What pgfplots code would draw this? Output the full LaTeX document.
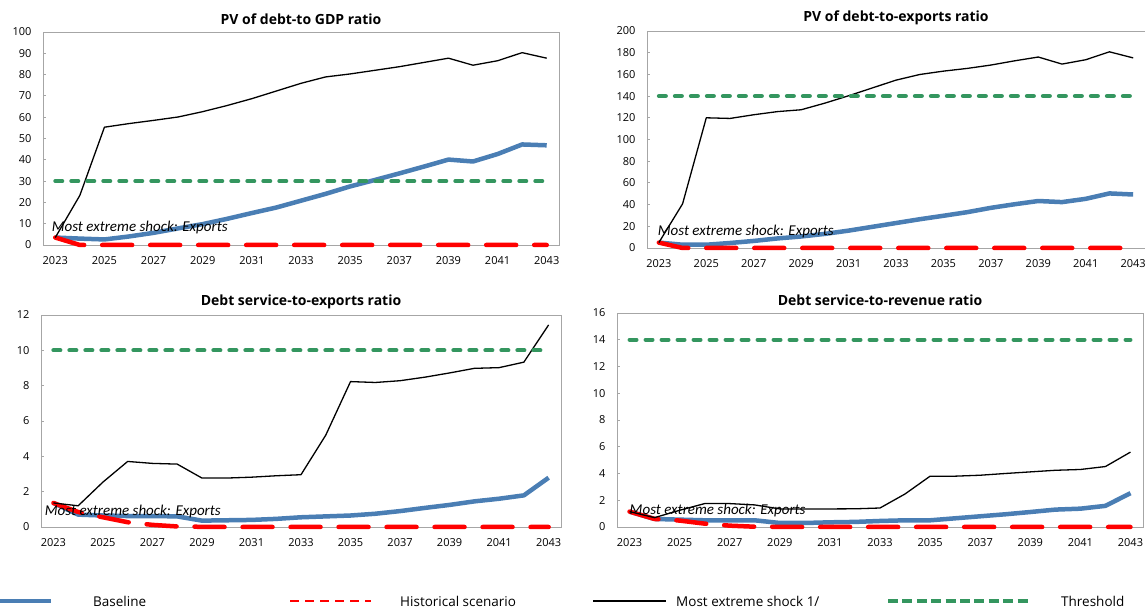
\documentclass[border=0pt]{standalone}
\usepackage{fontspec}
\setmainfont{Open Sans}
\newfontfamily\carlito{Carlito}
\usepackage{pgfplots}
\usepackage{pgfplotstable}
\pgfplotsset{compat=1.18}

\definecolor{baseblue}{RGB}{74,126,180}
\definecolor{thrgreen}{RGB}{52,150,95}
\definecolor{axisgray}{RGB}{166,166,166}

% year, baseline, historical scenario, most extreme shock, threshold
\pgfplotstableread{
year base hist shock thr
2023 3.5  3.5 3.5  30
2024 3.0  0   23.3 30
2025 2.6  0   55.3 30
2026 4.0  0   57.0 30
2027 5.7  0   58.5 30
2028 7.8  0   60.1 30
2029 9.8  0   62.6 30
2030 12.3 0   65.5 30
2031 15.0 0   68.7 30
2032 17.6 0   72.3 30
2033 20.8 0   75.9 30
2034 24.0 0   78.9 30
2035 27.5 0   80.3 30
2036 30.5 0   82.0 30
2037 33.6 0   83.7 30
2038 36.8 0   85.7 30
2039 40.1 0   87.7 30
2040 39.2 0   84.4 30
2041 42.7 0   86.5 30
2042 47.2 0   90.3 30
2043 46.8 0   87.7 30
}\pvgdp

\pgfplotstableread{
year base hist shock thr
2023 5.0  5.0 5.0   140
2024 3.0  0   40.7  140
2025 3.0  0   120.0 140
2026 4.6  0   119.4 140
2027 6.5  0   122.8 140
2028 8.8  0   125.7 140
2029 10.6 0   127.4 140
2030 13.0 0   133.5 140
2031 16.0 0   140.3 140
2032 19.5 0   147.5 140
2033 23.0 0   154.7 140
2034 26.5 0   159.9 140
2035 29.7 0   163.0 140
2036 33.0 0   165.5 140
2037 37.0 0   168.6 140
2038 40.3 0   172.5 140
2039 43.3 0   176.0 140
2040 42.3 0   169.5 140
2041 45.3 0   173.5 140
2042 50.3 0   180.8 140
2043 49.3 0   175.2 140
}\pvexp

\pgfplotstableread{
year base hist shock thr
2023 1.36 1.36 1.36  10
2024 0.70 0.85 1.20  10
2025 0.65 0.55 2.54  10
2026 0.62 0.27 3.71  10
2027 0.62 0.12 3.60  10
2028 0.60 0.03 3.56  10
2029 0.36 0.01 2.77  10
2030 0.38 0    2.77  10
2031 0.40 0    2.82  10
2032 0.46 0    2.90  10
2033 0.55 0    2.96  10
2034 0.60 0    5.20  10
2035 0.65 0    8.23  10
2036 0.75 0    8.18  10
2037 0.90 0    8.28  10
2038 1.08 0    8.48  10
2039 1.25 0    8.72  10
2040 1.45 0    8.98  10
2041 1.60 0    9.02  10
2042 1.79 0    9.33  10
2043 2.79 0    11.44 10
}\dsexp

\pgfplotstableread{
year base hist shock thr
2023 1.15 1.15 1.15 14
2024 0.60 0.60 0.70 14
2025 0.55 0.48 1.25 14
2026 0.50 0.25 1.75 14
2027 0.50 0.10 1.75 14
2028 0.50 0.02 1.65 14
2029 0.30 0.01 1.35 14
2030 0.30 0    1.35 14
2031 0.35 0    1.35 14
2032 0.38 0    1.36 14
2033 0.45 0    1.42 14
2034 0.50 0    2.47 14
2035 0.50 0    3.80 14
2036 0.65 0    3.80 14
2037 0.80 0    3.87 14
2038 0.95 0    4.00 14
2039 1.12 0    4.12 14
2040 1.30 0    4.24 14
2041 1.37 0    4.30 14
2042 1.58 0    4.52 14
2043 2.53 0    5.60 14
}\dsrev

\tikzset{
  shocknote/.style={anchor=west, inner sep=0pt,
                    font=\carlito\itshape\fontsize{15}{17}\selectfont},
}

\pgfplotsset{
  dsa/.style={
    scale only axis,
    clip=false,
    xmin=2022.5, xmax=2043.5,
    ymin=0,
    xtick={2023,2025,...,2043},
    minor xtick={2024.5,2026.5,...,2042.5},
    ytick pos=left, xtick pos=bottom,
    tick align=inside,
    major tick length=3pt,
    minor tick length=3pt,
    axis line style={axisgray, line width=0.8pt},
    tick style={axisgray, line width=0.8pt},
    x tick style={draw=none},
    minor x tick style={axisgray, line width=0.8pt},
    /pgf/number format/assume math mode=true,
    tick label style={font=\fontsize{11}{13}\selectfont, text=black},
    xticklabel style={/pgf/number format/1000 sep={}, yshift=-8pt},
    yticklabel style={xshift=-8pt},
    title style={font=\bfseries\fontsize{14}{16}\selectfont,
                 at={(0.5,1)}, anchor=center, yshift=7pt},
  },
  base/.style={color=baseblue, line width=4.5pt, line join=round, no markers},
  hist/.style={color=red, line width=4.5pt, line cap=round, line join=round,
               dash pattern=on 30pt off 18pt, no markers},
  shock/.style={color=black, line width=1.3pt, line join=round, no markers},
  thr/.style={color=thrgreen, line width=4pt, line cap=round,
              dash pattern=on 7pt off 9pt, no markers},
}

\newcommand{\dsaseries}[1]{%
  \addplot[base]  table[x=year, y=base]  {#1};
  \addplot[hist]  table[x=year, y=hist]  {#1};
  \addplot[shock] table[x=year, y=shock] {#1};
  \addplot[thr]   table[x=year, y=thr]   {#1};
}

\begin{document}
\begin{tikzpicture}
\useasboundingbox (0,0) rectangle (1145pt,609pt);

% PV of debt-to-GDP
\begin{axis}[dsa, at={(43pt,364pt)}, anchor=south west,
  width=516pt, height=213pt, ymax=100, ytick={0,10,...,100},
  title={PV of debt-to GDP ratio}]
  \dsaseries{\pvgdp}
  \node[shocknote] at (axis cs:2022.85,8) {Most extreme shock: Exports};
\end{axis}

% PV of debt-to-exports
\begin{axis}[dsa, at={(647pt,361pt)}, anchor=south west,
  width=498pt, height=217pt, ymax=200, ytick={0,20,...,200},
  title={PV of debt-to-exports ratio}]
  \dsaseries{\pvexp}
  \node[shocknote] at (axis cs:2022.95,15) {Most extreme shock: Exports};
\end{axis}

% Debt service-to-exports
\begin{axis}[dsa, at={(41pt,82pt)}, anchor=south west,
  width=520pt, height=212pt, ymax=12, ytick={0,2,...,12},
  title={Debt service-to-exports ratio}]
  \dsaseries{\dsexp}
  \node[shocknote] at (axis cs:2022.65,0.85) {Most extreme shock: Exports};
\end{axis}

% Debt service-to-revenue
\begin{axis}[dsa, at={(617pt,82pt)}, anchor=south west,
  width=526pt, height=214pt, ymax=16, ytick={0,2,...,16},
  title={Debt service-to-revenue ratio}]
  \dsaseries{\dsrev}
  \node[shocknote] at (axis cs:2023,1.2) {Most extreme shock: Exports};
\end{axis}

% legend row
\begin{scope}[every node/.style={anchor=west, inner sep=0pt,
    font=\fontsize{13.5}{16}\selectfont}]
  \draw[baseblue, line width=4.5pt] (0pt,8pt) -- (51pt,8pt);
  \node at (93pt,8pt) {Baseline};
  \draw[red, line width=2.5pt, dash pattern=on 9pt off 6pt] (290pt,8pt) -- (371pt,8pt);
  \node at (400pt,8pt) {Historical scenario};
  \draw[black, line width=2pt] (593pt,8pt) -- (666pt,8pt);
  \node at (676pt,8pt) {Most extreme shock 1/};
  \draw[thrgreen, line width=4pt, dash pattern=on 10pt off 4.4pt] (888pt,8pt) -- (1030pt,8pt);
  \node at (1061pt,8pt) {Threshold};
\end{scope}
\end{tikzpicture}
\end{document}
